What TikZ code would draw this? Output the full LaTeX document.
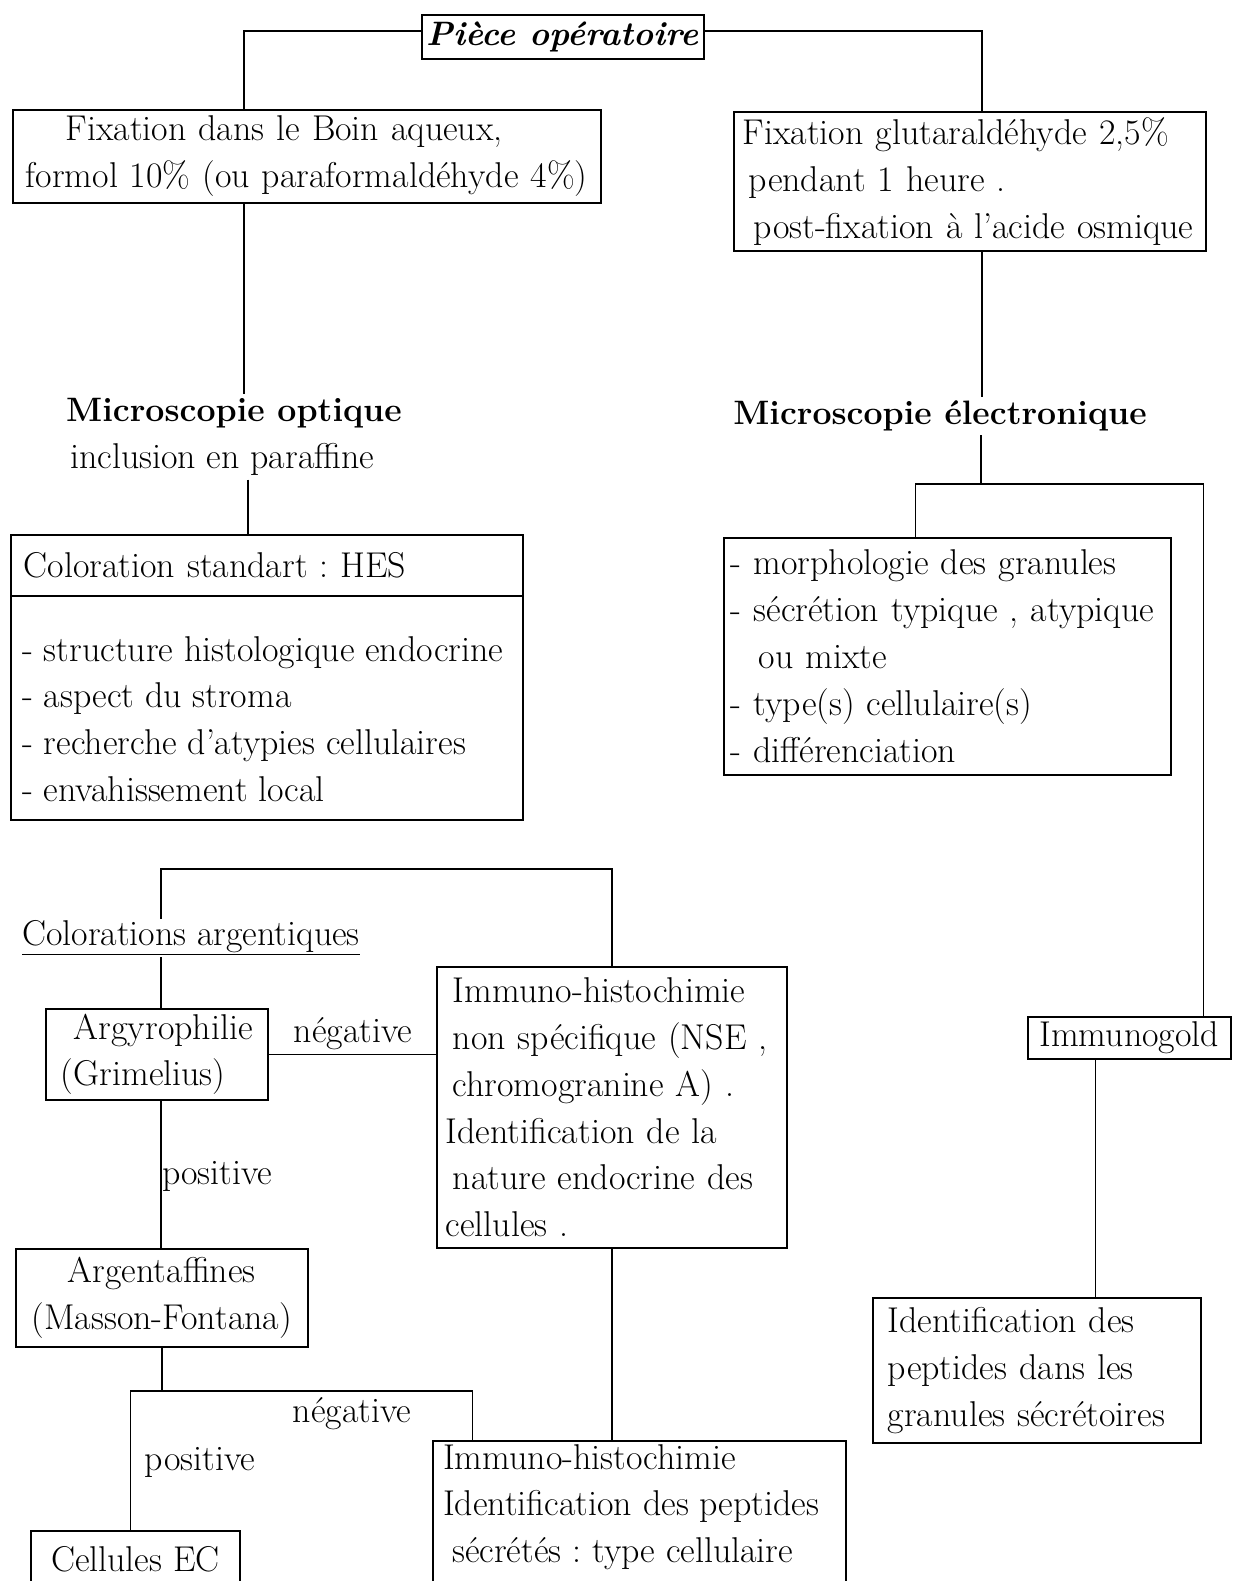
\documentclass[tikz,border=0pt]{standalone}
\usepackage{tikz}
\usetikzlibrary{positioning}

\begin{document}
\begin{tikzpicture}[x=1bp, y=-1bp,
  every node/.style={font=\fontsize{36}{47}\selectfont\frenchspacing},
  box/.style={draw, line width=1.6bp, anchor=north west, align=left, inner xsep=4bp, inner ysep=0bp},
  txt/.style={inner sep=2bp},
  titre/.style={font=\fontsize{34}{47}\selectfont\bfseries},
  link/.style={line width=1.6bp}]
  \useasboundingbox (0,0) rectangle (1233,1581);
  \clip (0,0) rectangle (1233,1581);

  \node[box, titre, align=center, minimum width=282bp, minimum height=44bp] (piece) at (421,14) {\textit{Pièce opératoire}};
  \node[box, inner xsep=13bp, text width=562bp, minimum height=93bp] (fixA) at (12,109) {\hspace*{40bp}Fixation dans le Boin aqueux,\\formol 10\% (ou paraformaldéhyde 4\%)};
  \node[box, inner xsep=9bp, text width=454bp, minimum height=139bp] (fixB) at (733,111) {Fixation glutaraldéhyde 2,5\%\\\hspace*{6bp}pendant 1 heure .\\\hspace*{11bp}post-fixation à l’acide osmique};
  \node[txt, inner sep=4bp, align=left, anchor=west] (optA) at (62,437) {{\fontsize{34}{47}\selectfont\bfseries Microscopie optique}\\\hspace*{4bp}inclusion en paraffine};
  \node[txt, titre, inner sep=4bp] (optB) at (940,416) {Microscopie électronique};

  \node[box, inner xsep=13bp, text width=486bp, minimum height=61bp] (hesHead) at (10,534) {Coloration standart : HES};
  \node[box, minimum width=512bp, minimum height=224bp] (hesBody) at (10,595) {};
  \node[txt, align=left, anchor=north west] (hesList) at (20,634) {- structure histologique endocrine\\- aspect du stroma\\- recherche d’atypies cellulaires\\- envahissement local};

  \node[box, inner xsep=7bp, text width=433bp, minimum height=237bp] (morph) at (723,537) {- morphologie des granules\\- sécrétion typique , atypique\\\hspace*{28bp}ou mixte\\- type(s) cellulaire(s)\\- différenciation};
  \node[box, align=center, minimum width=203bp, minimum height=42bp] (gold) at (1027,1016) {Immunogold};
  \node[box, inner xsep=15bp, text width=298bp, minimum height=145bp] (ident) at (872,1297) {Identification des\\peptides dans les\\granules sécrétoires};

  \node[box, minimum width=222bp, minimum height=91bp] (argy) at (45,1008) {\hspace*{13bp}Argyrophilie\\(Grimelius)};
  \node[box, inner xsep=9bp, text width=332bp, minimum height=281bp] (nse) at (436,966) {\hspace*{7bp}Immuno-histochimie\\\hspace*{7bp}non spécifique (NSE ,\\\hspace*{7bp}chromogranine A) .\\Identification de la\\\hspace*{7bp}nature endocrine des\\cellules .};
  \node[box, align=center, minimum width=292bp, minimum height=98bp] (argent) at (15,1248) {Argentaffines\\(Masson-Fontana)};
  \node[box, align=center, minimum width=209bp, minimum height=56bp] (cellEC) at (30,1530) {Cellules EC};
  \node[box, minimum width=413bp, minimum height=200bp] (imm2) at (432,1440) {};
  \node[txt, align=left, anchor=north west] (imm2txt) at (441,1442) {Immuno-histochimie\\Identification des peptides\\\hspace*{9bp}sécrétés : type cellulaire};

  \node[txt] (negA) at (353,1034) {négative};
  \node[txt, inner sep=1bp, anchor=west] (posA) at (161,1176) {positive};
  \node[txt] (negB) at (352,1414) {négative};
  \node[txt] (posB) at (200,1462) {positive};

  \draw[link] ([yshift=6bp]piece.west) -| ([xshift=-63bp]fixA.north);
  \draw[link] ([yshift=6bp]piece.east) -| ([xshift=12bp]fixB.north);
  \draw[link] ([xshift=-63bp]fixA.south) -- ([xshift=-63bp]fixA.south |- optA.north);
  \draw[link] ([xshift=-19bp]hesHead.north |- optA.south) -- ([xshift=-19bp]hesHead.north);
  \draw[link] ([xshift=12bp]fixB.south) -- ([xshift=12bp]fixB.south |- optB.north);
  \coordinate (jB) at (981,484);
  \draw[link] (optB.south -| jB) -- (jB);
  \draw[link] ([xshift=-32bp]morph.north) |- ([xshift=74bp]gold.north |- jB) -- ([xshift=74bp]gold.north);
  \draw[link] ([xshift=-34bp]gold.south) -- ([xshift=-34bp]gold.south |- ident.north);

  \coordinate (jC) at (385,869);
  \draw[link] ([xshift=4bp]argy.north) |- (jC) -| (nse.north);
  \draw[link] (argy.east) -- (argy.east -| nse.west);
  \draw[link] ([xshift=4bp]argy.south) -- ([xshift=4bp]argy.south |- argent.north);
  \coordinate (jD) at (300,1391);
  \draw[link] (argent.south) -- (argent.south |- jD);
  \draw[link] ([xshift=-5bp]cellEC.north) |- ([xshift=-167bp]imm2.north |- jD) -- ([xshift=-167bp]imm2.north);
  \draw[link] (nse.south) -- (nse.south |- imm2.north);

  \node[txt, fill=white, anchor=west] (colarg) at (20,938) {\underline{Colorations argentiques}};
\end{tikzpicture}
\end{document}
